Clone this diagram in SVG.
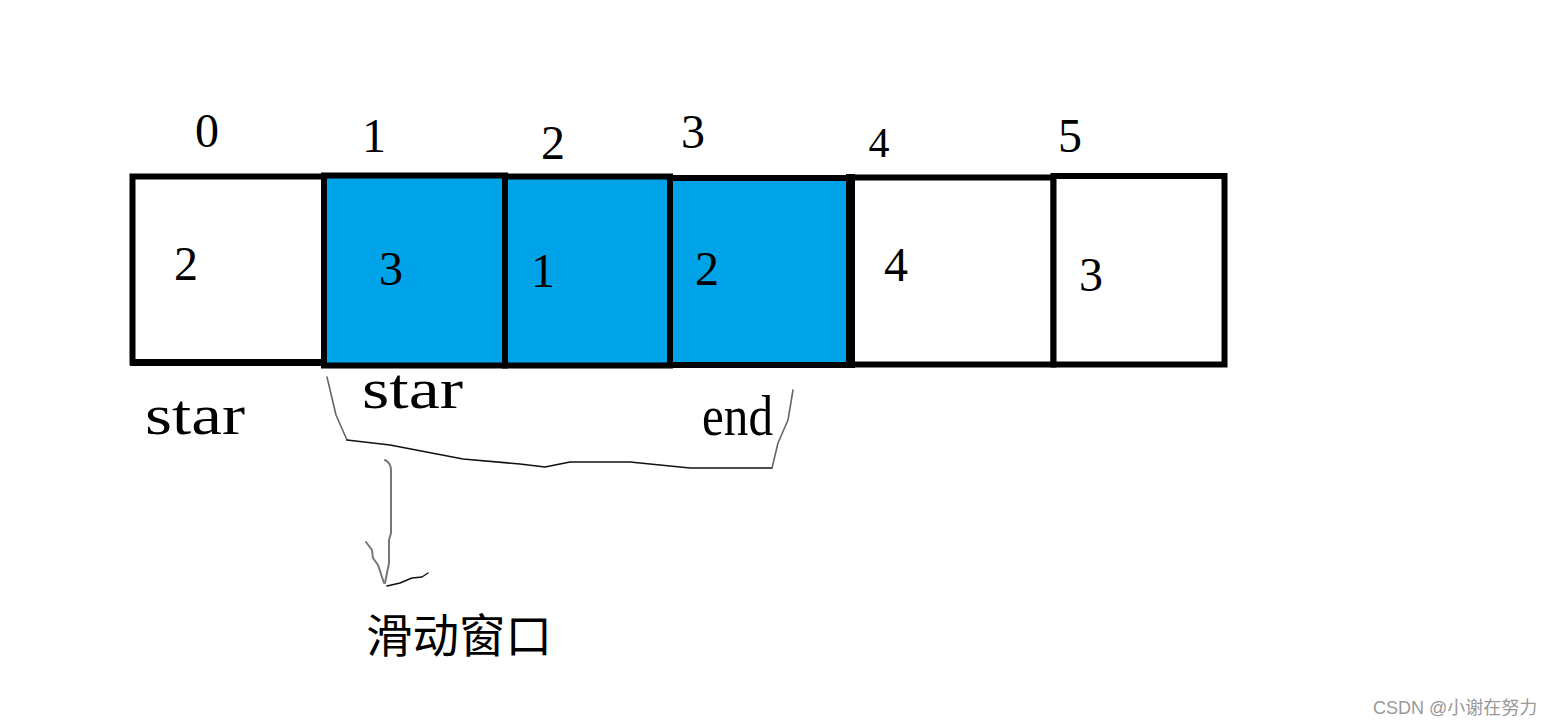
<svg xmlns="http://www.w3.org/2000/svg" width="1556" height="726" viewBox="0 0 1556 726">
<style>
.cell{stroke:#000;stroke-width:6}
.blue{fill:#00A2E8}
.white{fill:#fff}
.num{font-family:"Liberation Serif",serif;font-size:48px;fill:#000;text-anchor:middle}
.lbl{font-family:"Liberation Serif",serif;font-size:56px;fill:#000}
.cjk{font-family:"Noto Sans CJK SC",sans-serif;font-size:46px;fill:#000}
.wm{font-family:"Liberation Sans","Noto Sans CJK SC",sans-serif;font-size:18px;fill:#999}
.hand{fill:none;stroke-linecap:round;stroke-linejoin:round}
</style>
<rect width="1556" height="726" fill="#fff"/>

<g id="cell0">
  <rect class="cell white" x="132.5" y="176.5" width="191.5" height="185.5"/>
  <line x1="130" y1="363" x2="324" y2="363" stroke="#000" stroke-width="6"/>
  <text class="num" x="207" y="147">0</text>
  <text class="num" x="186" y="280">2</text>
</g>
<g id="cell1">
  <rect class="cell blue" x="324" y="175.5" width="181" height="190"/>
  <text class="num" x="374" y="152">1</text>
  <text class="num" x="391" y="285">3</text>
</g>
<g id="cell2">
  <rect class="cell blue" x="505" y="176.5" width="165" height="189"/>
  <text class="num" x="553" y="159">2</text>
  <text class="num" x="543" y="287">1</text>
</g>
<g id="cell3">
  <rect class="cell blue" x="670" y="178" width="180.5" height="187"/>
  <line x1="850.5" y1="174" x2="850.5" y2="368" stroke="#000" stroke-width="9"/>
  <text class="num" x="693" y="148">3</text>
  <text class="num" x="707" y="285">2</text>
</g>
<g id="cell4">
  <rect class="cell white" x="850.5" y="177.5" width="203" height="187"/>
  <line x1="850.5" y1="174" x2="850.5" y2="368" stroke="#000" stroke-width="9"/>
  <text class="num" x="879" y="157" style="font-size:42px">4</text>
  <text class="num" x="896" y="281">4</text>
</g>
<g id="cell5">
  <rect class="cell white" x="1053.5" y="176" width="171" height="188.5"/>
  <text class="num" x="1070" y="152">5</text>
  <text class="num" x="1091" y="291">3</text>
</g>

<g id="labels">
  <text class="lbl" x="145" y="434" textLength="100" lengthAdjust="spacingAndGlyphs">star</text>
  <text class="lbl" x="362" y="408" textLength="101" lengthAdjust="spacingAndGlyphs">star</text>
  <text class="lbl" x="702" y="435" textLength="71" lengthAdjust="spacingAndGlyphs">end</text>
</g>

<g id="connectors">
  <path class="hand" stroke="#666" stroke-width="1.6" d="M327,377 L336,415 L347,440"/>
  <path class="hand" stroke="#111" stroke-width="1.6" d="M347,440 L390,445 L463,459 L520,464 L545,467 L570,462 L630,462 L690,468 L772,468"/>
  <path class="hand" stroke="#666" stroke-width="1.6" d="M772,468 L778,443 L788,420 L793,390"/>
  <path class="hand" stroke="#777" stroke-width="2" d="M385,460 Q391,463 391,470 L391,533 L389,540 L389,563 L385,583"/>
  <path class="hand" stroke="#777" stroke-width="2" d="M366,542 L372,550 L373,558 L378,565 L384,583"/>
  <path class="hand" stroke="#111" stroke-width="1.4" d="M387,586 L400,583 L412,578 L422,577 L428,573"/>
</g>

<g id="window-label">
  <text class="cjk" x="366" y="652" textLength="186" lengthAdjust="spacingAndGlyphs">滑动窗口</text>
</g>

<text class="wm" x="1373" y="714">CSDN @小谢在努力</text>
</svg>
